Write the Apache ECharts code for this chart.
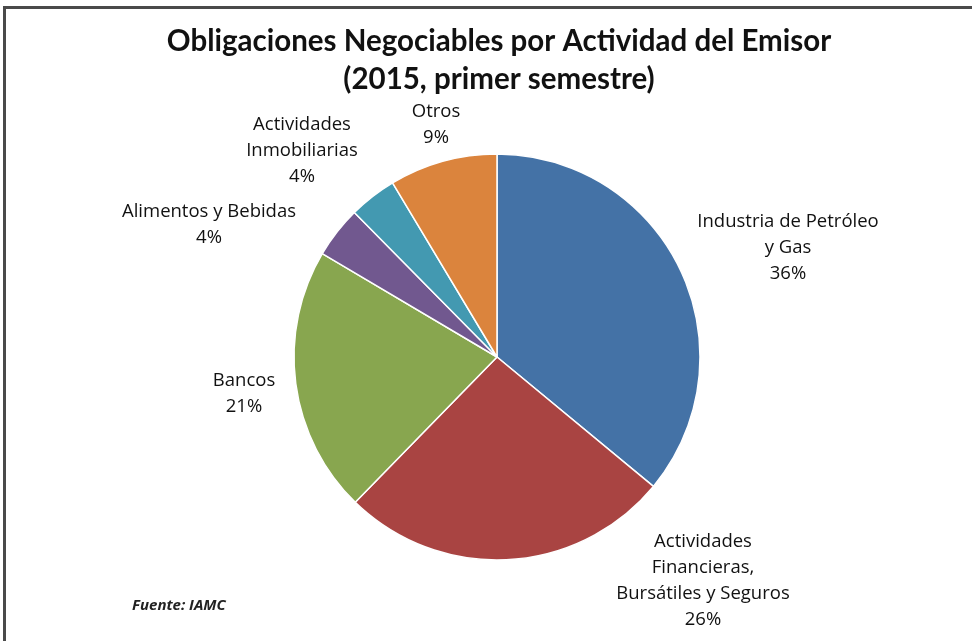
<!DOCTYPE html>
<html>
<head>
<meta charset="utf-8">
<script src="https://cdn.jsdelivr.net/npm/echarts@6/dist/echarts.min.js"></script>
<style>
  html, body { margin: 0; padding: 0; background: #fff; }
  #wrap { position: relative; width: 972px; height: 641px; overflow: hidden; }
  #frame {
    position: absolute; left: 3px; top: 6px; width: 1000px; height: 700px;
    border-left: 3px solid #4a4a4a; border-top: 3px solid #4a4a4a;
  }
  #main { position: absolute; left: 0; top: 0; width: 972px; height: 641px; }
</style>
</head>
<body>
<div id="wrap">
  <div id="frame"></div>
  <div id="main"></div>
</div>
<script>
var categories = [
    'Industria de Petróleo\ny Gas',
    'Actividades\nFinancieras,\nBursátiles y Seguros',
    'Bancos',
    'Alimentos y Bebidas',
    'Actividades\nInmobiliarias',
    'Otros'
];
var values = [36.0, 26.3, 21.2, 4.1, 3.8, 8.6];
var colors = ['#4472a6', '#a94442', '#88a64f', '#71588f', '#4399b1', '#db843d'];

// where each label sits (centre of its text block)
var labelPos = [
    [788, 248],
    [703, 581],
    [244, 394],
    [209, 225],
    [302, 151],
    [436, 125]
];

var chartData = [];
for (var i = 0; i < categories.length; i++) {
    chartData.push({
        name: categories[i],
        value: values[i],
        itemStyle: { color: colors[i] }
    });
}

var labelFont = '"Open Sans", Lato, sans-serif';
var titleFont = 'Lato, "Open Sans", sans-serif';

var myChart = echarts.init(document.getElementById('main'));
myChart.setOption({
    animation: false,
    title: {
        text: 'Obligaciones Negociables por Actividad del Emisor\n(2015, primer semestre)',
        left: 494,
        top: 17,
        textAlign: 'center',
        textStyle: {
            fontFamily: titleFont,
            fontSize: 29.5,
            fontWeight: 'bold',
            color: '#111',
            lineHeight: 38
        }
    },
    graphic: [{
        type: 'text',
        left: 132,
        top: 598,
        style: {
            text: 'Fuente: IAMC',
            fontFamily: labelFont,
            fontStyle: 'italic',
            fontWeight: 'bold',
            fontSize: 15,
            fill: '#222'
        }
    }],
    series: [{
        name: 'Actividad',
        type: 'pie',
        center: [497, 357],
        radius: 203,
        startAngle: 90,
        clockwise: true,
        avoidLabelOverlap: false,
        itemStyle: {
            borderColor: '#fff',
            borderWidth: 1.5
        },
        label: {
            show: true,
            position: 'outside',
            fontFamily: labelFont,
            fontSize: 18.5,
            color: '#111',
            lineHeight: 26,
            align: 'center',
            formatter: function (p) {
                return p.name + '\n' + Math.round(p.percent) + '%';
            }
        },
        labelLine: { show: false },
        labelLayout: function (params) {
            var pos = labelPos[params.dataIndex];
            return {
                x: pos[0],
                y: pos[1],
                align: 'center',
                verticalAlign: 'middle'
            };
        },
        data: chartData
    }]
});
</script>
</body>
</html>
